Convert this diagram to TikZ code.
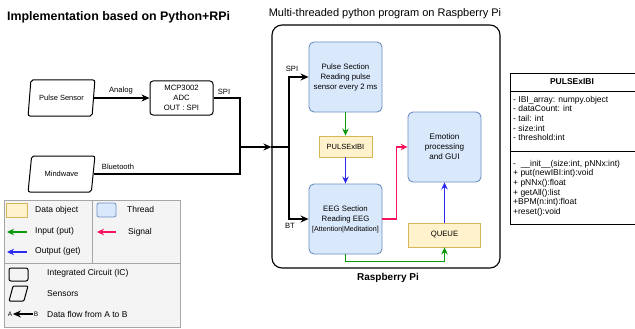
\documentclass[tikz,border=0pt]{standalone}
\usepackage{fontspec}
\setmainfont{Liberation Sans}
\usetikzlibrary{arrows.meta,shapes.geometric,calc}
\definecolor{thrfill}{HTML}{DAE8FC}
\definecolor{thrdraw}{HTML}{6C8EBF}
\definecolor{datfill}{HTML}{FFF2CC}
\definecolor{datdraw}{HTML}{D6B656}
\definecolor{ggreen}{HTML}{0A9A0A}
\definecolor{gblue}{HTML}{2B2BF0}
\definecolor{gred}{HTML}{F5145A}
\definecolor{legfill}{HTML}{F4F4F4}
\definecolor{legdraw}{HTML}{A6A6A6}
\newcommand\fsz[1]{\fontsize{#1}{10}\selectfont}
\begin{document}
\begin{tikzpicture}[x=1pt,y=-1pt,
  arr/.style={-{Stealth[length=8pt,width=7pt]}},
  carr/.style={-{Stealth[length=7pt,width=6.5pt]}},
  blk/.style={line width=1.8pt,black},
  grn/.style={line width=1.6pt,ggreen},
  blu/.style={line width=1.6pt,gblue},
  rd/.style={line width=1.6pt,gred},
  thread/.style={draw=thrdraw,fill=thrfill,rounded corners=5pt,line width=0.9pt,
    minimum width=73pt,minimum height=70pt,align=center,font=\fsz{7.8},inner sep=1pt},
  dataobj/.style={draw=datdraw,fill=datfill,line width=0.8pt,align=center,font=\fsz{7.5},inner sep=1pt},
  icbox/.style={draw,rounded corners=3pt,line width=1pt,align=center,font=\fsz{7.7},inner sep=1pt},
  sensor/.style={trapezium,trapezium left angle=74,trapezium right angle=106,
    trapezium stretches=true,draw,rounded corners=2pt,line width=1pt,
    minimum width=67pt,minimum height=36pt,font=\fsz{7.5},inner sep=1pt},
  lbl/.style={font=\fsz{7.6},inner sep=1pt},
  legtxt/.style={font=\fsz{8.5},anchor=west,inner sep=0pt},
  umltxt/.style={font=\fontsize{8.5}{9.6}\selectfont,anchor=west,align=left,inner sep=0pt},
]
\useasboundingbox (0,0) rectangle (635,329);

% titles
\node[anchor=west,font=\bfseries\fontsize{12.4}{14}\selectfont,inner sep=0pt] (title) at (7,17) {Implementation based on Python+RPi};
\node[font=\fontsize{11}{13}\selectfont,inner sep=0pt] (rpititle) at (385,14) {Multi-threaded python program on Raspberry Pi};

% Raspberry Pi frame
\node[draw,line width=1.1pt,rounded corners=10pt,minimum width=228pt,minimum height=243pt] (rpi) at (386,146.5) {};
\node[font=\bfseries\fsz{10},inner sep=0pt] (rpilbl) at (388,278) {Raspberry Pi};

% threads and data objects
\node[thread] (pulse) at (345.5,77) {Pulse Section\\Reading pulse\\sensor every 2 ms};
\node[dataobj,minimum width=53pt,minimum height=21pt] (pbuf) at (345.5,146.5) {PULSExIBI};
\node[thread,font=\fsz{8.1}] (emo) at (444.5,147) {Emotion\\processing\\and GUI};
\node[thread] (eeg) at (345.5,219) {EEG Section\\Reading EEG\\{\fontsize{7.1}{10}\selectfont{[}Attention|Meditation{]}}};
\node[dataobj,minimum width=72pt,minimum height=24pt,font=\fsz{7.7}] (queue) at (444.5,235) {QUEUE};

% sensors and ADC
\node[sensor] (psens) at (61.5,98) {Pulse Sensor};
\node[sensor] (mind) at (61.5,174) {Mindwave};
\node[icbox,minimum width=63pt,minimum height=34pt] (mcp) at (181.5,98) {MCP3002\\ADC\\OUT : SPI};

% black data flow
\draw[blk,arr] (psens.east) -- (mcp.west);
\node[lbl] (analog) at (121,91) {Analog};
\node[lbl] (spi1) at (224,92) {SPI};
\node[lbl] (bt1) at (118,167) {Bluetooth};
\coordinate (j1) at (240,147);
\coordinate (j2) at (289,147);
\draw[blk] (mcp.east) -| (j1);
\draw[blk] (mind.east) -| (j1);
\draw[blk,arr] (j1) -- (j1 -| rpi.west);
\draw[blk] (j1 -| rpi.west) -- (j2);
\draw[blk,arr] (j2) |- (pulse.west);
\draw[blk,arr] (j2) |- (eeg.west);
\node[lbl] (spi2) at (292,69) {SPI};
\node[lbl] (bt2) at (290,226) {BT};

% coloured flows
\draw[grn,carr] (pulse.south) -- (pbuf.north);
\draw[blu,carr] (pbuf.south) -- (eeg.north);
\draw[rd,carr] (eeg.east) -- ++(14,0) |- (emo.west);
\draw[grn,carr] (eeg.south) -- ++(0,7) -| (queue.south);
\draw[blu,carr] (queue.north) -- (emo.south);

% UML class box (right side runs off the page)
\node[draw,line width=0.7pt,minimum width=127pt,minimum height=151pt,inner sep=0pt] (uml) at (573.5,148.5) {};
\draw[line width=0.7pt] (uml.west |- 0,91) -- (uml.east |- 0,91);
\draw[line width=0.7pt] (uml.west |- 0,151) -- (uml.east |- 0,151);
\node[font=\bfseries\fsz{8.5},inner sep=0pt] (umltitle) at (572,82) {PULSExIBI};
\node[umltxt] (umlattr) at (513,118.5) {- IBI\_array: numpy.object\\- dataCount: int\\- tail: int\\- size:int\\- threshold:int};
\node[umltxt] (umlmeth) at (513,188) {-\ \ \_\_init\_\_(size:int, pNNx:int)\\+ put(newIBI:int):void\\+ pNNx():float\\+ getAll():list\\+BPM(n:int):float\\+reset():void};

% legend
\node[draw=legdraw,fill=legfill,line width=0.7pt,minimum width=176pt,minimum height=127pt,inner sep=0pt] (legend) at (92,263.5) {};
\draw[legdraw,line width=0.7pt] (legend.west |- 0,263) -- (legend.east |- 0,263);
\draw[legdraw,line width=0.7pt] (92,200) -- (92,263);
\node[draw=datdraw,fill=datfill,line width=0.6pt,minimum width=21pt,minimum height=14pt,inner sep=0pt] (swdata) at (16.5,210) {};
\node[legtxt] (ldata) at (35,210) {Data object};
\coordinate (lg1a) at (27,232); \coordinate (lg1b) at (7,232);
\draw[grn,carr] (lg1a) -- (lg1b);
\node[legtxt] (linput) at (35,231) {Input (put)};
\coordinate (lb1a) at (27,252); \coordinate (lb1b) at (7,252);
\draw[blu,carr] (lb1a) -- (lb1b);
\node[legtxt] (loutput) at (35,251) {Output (get)};
\node[draw=thrdraw,fill=thrfill,rounded corners=2pt,line width=0.8pt,minimum width=19pt,minimum height=14pt,inner sep=0pt] (swthr) at (106.5,210) {};
\node[legtxt] (lthread) at (127,209) {Thread};
\coordinate (lr1a) at (116,232); \coordinate (lr1b) at (97,232);
\draw[rd,carr] (lr1a) -- (lr1b);
\node[legtxt] (lsignal) at (128,232) {Signal};
\node[draw,rounded corners=2pt,line width=1pt,minimum width=19pt,minimum height=13pt,inner sep=0pt] (swic) at (18.5,274.5) {};
\node[legtxt] (lic) at (47,273) {Integrated Circuit (IC)};
\node[trapezium,trapezium left angle=70,trapezium right angle=110,trapezium stretches=true,draw,line width=1pt,rounded corners=1pt,minimum width=19pt,minimum height=15pt,inner sep=1pt] (swsens) at (18.5,293.5) {\phantom{x}};
\node[legtxt] (lsens) at (47,294) {Sensors};
\node[font=\fsz{6.5},inner sep=0.5pt] (lA) at (10,314) {A};
\node[font=\fsz{6.5},inner sep=0.5pt] (lB) at (36,314) {B};
\draw[blk,arr] (lB.west) -- (lA.east);
\node[legtxt] (lflow) at (47,314) {Data flow from A to B};
\end{tikzpicture}
\end{document}
